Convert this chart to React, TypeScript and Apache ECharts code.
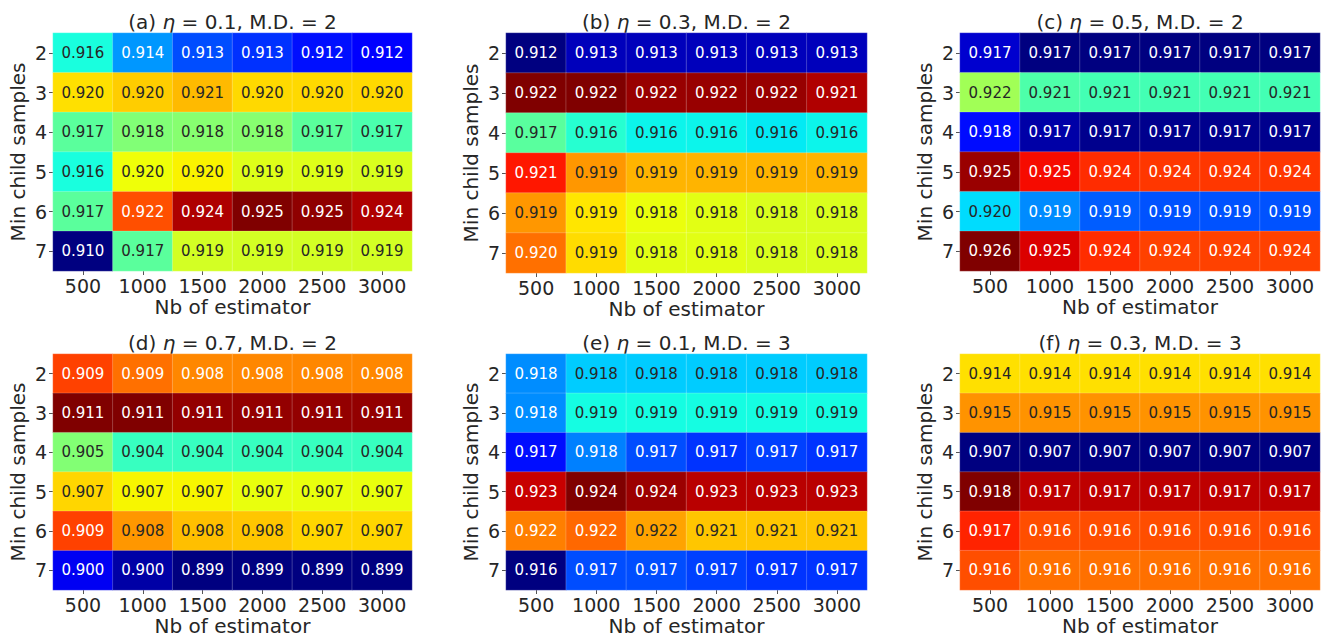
import React, { useEffect, useRef } from "react";
import * as echarts from "echarts";

const estimators = ["500", "1000", "1500", "2000", "2500", "3000"];
const minChild = ["2", "3", "4", "5", "6", "7"];

const titles = [
  ["(a)", "0.1", "2"],
  ["(b)", "0.3", "2"],
  ["(c)", "0.5", "2"],
  ["(d)", "0.7", "2"],
  ["(e)", "0.1", "3"],
  ["(f)", "0.3", "3"],
];

// rows: min child samples 2..7, columns: nb of estimators 500..3000
const panelA = [
  [0.9157, 0.9141, 0.9130, 0.9126, 0.9121, 0.9118],
  [0.9201, 0.9204, 0.9207, 0.9202, 0.9202, 0.9202],
  [0.9169, 0.9176, 0.9177, 0.9177, 0.9169, 0.9166],
  [0.9157, 0.9196, 0.9198, 0.9193, 0.9193, 0.9192],
  [0.9169, 0.9224, 0.9244, 0.9250, 0.9248, 0.9244],
  [0.9100, 0.9169, 0.9191, 0.9191, 0.9191, 0.9191],
];
const panelB = [
  [0.9118, 0.9127, 0.9127, 0.9127, 0.9127, 0.9127],
  [0.9222, 0.9221, 0.9216, 0.9216, 0.9216, 0.9214],
  [0.9166, 0.9160, 0.9157, 0.9157, 0.9156, 0.9157],
  [0.9207, 0.9194, 0.9191, 0.9191, 0.9191, 0.9191],
  [0.9194, 0.9186, 0.9183, 0.9182, 0.9181, 0.9181],
  [0.9198, 0.9187, 0.9182, 0.9182, 0.9181, 0.9181],
];
const panelC = [
  [0.9174, 0.9167, 0.9167, 0.9167, 0.9167, 0.9167],
  [0.9216, 0.9207, 0.9206, 0.9206, 0.9206, 0.9206],
  [0.9180, 0.9171, 0.9169, 0.9169, 0.9169, 0.9169],
  [0.9254, 0.9247, 0.9244, 0.9243, 0.9243, 0.9243],
  [0.9198, 0.9191, 0.9187, 0.9186, 0.9186, 0.9186],
  [0.9258, 0.9249, 0.9244, 0.9242, 0.9242, 0.9242],
];
const panelD = [
  [0.9093, 0.9087, 0.9084, 0.9084, 0.9084, 0.9084],
  [0.9114, 0.9112, 0.9110, 0.9110, 0.9110, 0.9110],
  [0.9053, 0.9042, 0.9042, 0.9042, 0.9042, 0.9042],
  [0.9074, 0.9070, 0.9070, 0.9068, 0.9068, 0.9068],
  [0.9093, 0.9082, 0.9077, 0.9076, 0.9074, 0.9074],
  [0.9004, 0.8996, 0.8990, 0.8990, 0.8990, 0.8990],
];
const panelE = [
  [0.9179, 0.9184, 0.9184, 0.9184, 0.9184, 0.9184],
  [0.9179, 0.9188, 0.9188, 0.9188, 0.9188, 0.9188],
  [0.9169, 0.9178, 0.9174, 0.9172, 0.9173, 0.9172],
  [0.9233, 0.9238, 0.9236, 0.9234, 0.9234, 0.9234],
  [0.9220, 0.9222, 0.9217, 0.9214, 0.9214, 0.9214],
  [0.9158, 0.9174, 0.9174, 0.9173, 0.9172, 0.9172],
];
const panelF = [
  [0.9144, 0.9144, 0.9144, 0.9144, 0.9144, 0.9144],
  [0.9153, 0.9153, 0.9153, 0.9153, 0.9153, 0.9153],
  [0.9070, 0.9070, 0.9070, 0.9070, 0.9070, 0.9070],
  [0.9180, 0.9174, 0.9174, 0.9174, 0.9174, 0.9174],
  [0.9166, 0.9161, 0.9161, 0.9161, 0.9161, 0.9161],
  [0.9161, 0.9157, 0.9157, 0.9157, 0.9157, 0.9157],
];
const panels = [panelA, panelB, panelC, panelD, panelE, panelF];

// colour-scale limits for each panel
const scaleMin = [0.9100, 0.9122, 0.9168, 0.8992, 0.9158, 0.9070];
const scaleMax = [0.9250, 0.9218, 0.9256, 0.9112, 0.9238, 0.9180];

// grid boxes [left, top, width, height]
const boxes = [
  [53, 33, 359, 238],
  [506, 33, 361, 240],
  [960, 33, 360, 238],
  [53, 354, 359, 240],
  [506, 354, 361, 240],
  [960, 354, 360, 239],
];

const FONT = "DejaVu Sans";
const DARK = "#262626";

function seg(t: number, pts: number[][]) {
  for (let i = 0; i < pts.length - 1; i++) {
    const [x0, y0] = pts[i];
    const [x1, y1] = pts[i + 1];
    if (t >= x0 && t <= x1) return x1 === x0 ? y1 : y0 + ((t - x0) / (x1 - x0)) * (y1 - y0);
  }
  return pts[pts.length - 1][1];
}
function jet(t: number): number[] {
  const r = seg(t, [[0, 0], [0.35, 0], [0.66, 1], [0.89, 1], [1, 0.5]]);
  const g = seg(t, [[0, 0], [0.125, 0], [0.375, 1], [0.64, 1], [0.91, 0], [1, 0]]);
  const b = seg(t, [[0, 0.5], [0.11, 1], [0.34, 1], [0.65, 0], [1, 0]]);
  return [r, g, b];
}
function toHex(c: number[]) {
  return (
    "#" +
    c
      .map((v) => Math.round(Math.max(0, Math.min(1, v)) * 255).toString(16).padStart(2, "0"))
      .join("")
  );
}
function lum(c: number[]) {
  const lin = c.map((v) => (v <= 0.03928 ? v / 12.92 : Math.pow((v + 0.055) / 1.055, 2.4)));
  return 0.2126 * lin[0] + 0.7152 * lin[1] + 0.0722 * lin[2];
}
const jetStops: string[] = [];
for (let i = 0; i <= 100; i++) jetStops.push(toHex(jet(i / 100)));

export default function App() {
  const ref = useRef<HTMLDivElement>(null);
  useEffect(() => {
    if (!ref.current) return;
    const chart = echarts.init(ref.current, undefined, { renderer: "svg" });

    const grid: any[] = [];
    const xAxis: any[] = [];
    const yAxis: any[] = [];
    const series: any[] = [];
    const visualMap: any[] = [];
    const graphic: any[] = [];

    const tick = { show: true, alignWithLabel: true, length: 4, lineStyle: { color: "#555555", width: 1 } };
    const hiddenLine = { show: true, lineStyle: { color: "rgba(0,0,0,0)", width: 0 } };

    panels.forEach((panel, p) => {
      const [l, t, w, h] = boxes[p];
      grid.push({ left: l, top: t, width: w, height: h });
      xAxis.push({
        type: "category",
        gridIndex: p,
        data: estimators,
        name: "Nb of estimator",
        nameLocation: "middle",
        nameGap: 26,
        nameTextStyle: { fontFamily: FONT, fontSize: 20, color: DARK },
        axisLine: hiddenLine,
        axisTick: tick,
        axisLabel: { interval: 0, fontFamily: FONT, fontSize: 19, color: DARK, margin: 5 },
        splitLine: { show: false },
      });
      yAxis.push({
        type: "category",
        gridIndex: p,
        data: minChild,
        inverse: true,
        name: "Min child samples",
        nameLocation: "middle",
        nameGap: 25,
        nameRotate: 90,
        nameTextStyle: { fontFamily: FONT, fontSize: 20, color: DARK },
        axisLine: hiddenLine,
        axisTick: tick,
        axisLabel: { interval: 0, fontFamily: FONT, fontSize: 19, color: DARK, margin: 6 },
        splitLine: { show: false },
      });
      const data: any[] = [];
      panel.forEach((row, ri) => {
        row.forEach((v, ci) => {
          const tt = Math.max(0, Math.min(1, (v - scaleMin[p]) / (scaleMax[p] - scaleMin[p])));
          const c = jet(tt);
          data.push({
            value: [ci, ri, v],
            label: { color: lum(c) > 0.408 ? DARK : "#ffffff" },
          });
        });
      });
      series.push({
        type: "heatmap",
        xAxisIndex: p,
        yAxisIndex: p,
        data,
        label: {
          show: true,
          fontFamily: FONT,
          fontSize: 15,
          formatter: (d: any) => (d.value[2] as number).toFixed(3),
        },
        itemStyle: { borderColor: "rgba(255,255,255,0.35)", borderWidth: 0.6 },
        emphasis: { disabled: true },
      });
      visualMap.push({
        type: "continuous",
        show: false,
        seriesIndex: p,
        dimension: 2,
        min: scaleMin[p],
        max: scaleMax[p],
        inRange: { color: jetStops },
      });
      const [lab, eta, md] = titles[p];
      graphic.push({
        type: "text",
        x: l + w / 2,
        y: t - 11,
        style: {
          text: `${lab} {i|η} = ${eta}, M.D. = ${md}`,
          rich: { i: { fontStyle: "italic", fontFamily: FONT, fontSize: 20, fill: DARK } },
          fontFamily: FONT,
          fontSize: 20,
          fill: DARK,
          align: "center",
          verticalAlign: "middle",
        },
      });
    });

    chart.setOption({
      animation: false,
      backgroundColor: "#ffffff",
      grid,
      xAxis,
      yAxis,
      visualMap,
      series,
      graphic,
    });
    return () => chart.dispose();
  }, []);

  return (
    <div
      ref={ref}
      style={{ position: "fixed", left: 0, top: 0, width: 1324, height: 637, background: "#fff" }}
    />
  );
}
